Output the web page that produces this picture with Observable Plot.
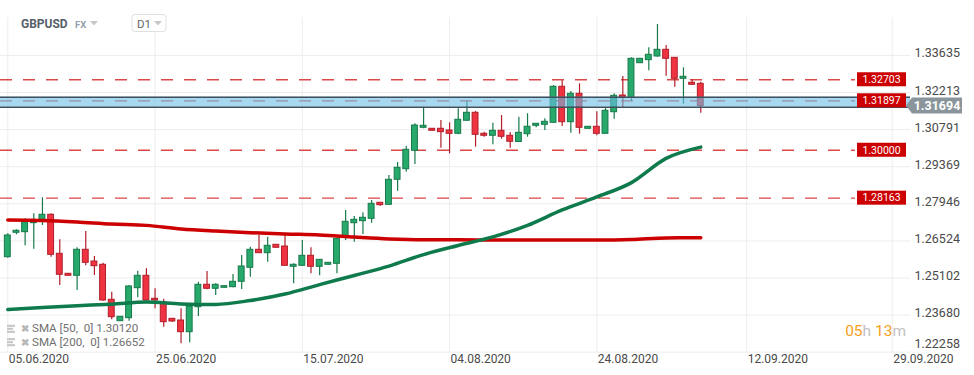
<!DOCTYPE html>
<html><head><meta charset="utf-8">
<script src="https://cdn.jsdelivr.net/npm/d3@7"></script>
<script src="https://cdn.jsdelivr.net/npm/@observablehq/plot@0.6"></script>
<style>
body{margin:0;background:#fff;font-family:Roboto,"Liberation Sans",sans-serif;}
#chart{width:974px;height:375px;overflow:hidden;}
</style></head><body><div id="chart"></div>
<script>
// ---- Data (GBPUSD D1, candle index 0 = 05.06.2020) ----
const opens = [1.25900,1.26836,1.26859,1.27204,1.27334,1.27526,1.26030,1.25264,1.25187,1.26184,1.25735,1.25609,1.24267,1.23446,1.23561,1.24712,1.25187,1.24305,1.24163,1.23538,1.23473,1.23025,1.23983,1.24842,1.24689,1.24727,1.24750,1.24957,1.25494,1.26184,1.26054,1.26376,1.26310,1.25532,1.25570,1.25954,1.25532,1.25609,1.25647,1.26636,1.27204,1.27280,1.27372,1.27986,1.27909,1.28868,1.29274,1.29980,1.30861,1.30823,1.30823,1.30758,1.30631,1.31130,1.31436,1.30631,1.30555,1.30746,1.30555,1.30317,1.30616,1.30938,1.30976,1.31053,1.32433,1.31076,1.32165,1.30823,1.30900,1.30631,1.31459,1.32100,1.32012,1.33338,1.33453,1.33595,1.33852,1.33545,1.32740,1.32587,1.32548];
const highs = [1.26797,1.26951,1.27372,1.27564,1.28178,1.27564,1.26567,1.25275,1.26261,1.26885,1.25927,1.25670,1.24558,1.23627,1.24815,1.25363,1.25455,1.24689,1.24290,1.23550,1.23922,1.24048,1.24942,1.25352,1.24880,1.24796,1.25237,1.25965,1.26284,1.26744,1.26667,1.26387,1.26732,1.25647,1.26540,1.26261,1.25812,1.25697,1.26617,1.27691,1.27461,1.27602,1.28074,1.27997,1.29032,1.29531,1.30144,1.31015,1.31651,1.30834,1.31141,1.31053,1.31590,1.31870,1.31486,1.30693,1.31038,1.31333,1.30681,1.31268,1.31398,1.31026,1.31206,1.32483,1.32663,1.32253,1.32548,1.30911,1.31475,1.31640,1.32165,1.32828,1.33545,1.33518,1.33929,1.34822,1.34017,1.33557,1.33162,1.32702,1.32610];
const lows = [1.25862,1.26759,1.26337,1.26207,1.27115,1.25900,1.24815,1.25168,1.24623,1.25570,1.25198,1.24213,1.23500,1.23435,1.23446,1.24344,1.24221,1.23922,1.23216,1.23397,1.22580,1.22618,1.23627,1.24650,1.24432,1.24708,1.24727,1.24662,1.25133,1.26042,1.25708,1.26253,1.25563,1.24880,1.25563,1.25264,1.25187,1.25601,1.25264,1.26540,1.26475,1.26770,1.27204,1.27855,1.27902,1.28431,1.29159,1.29454,1.30823,1.30739,1.30079,1.29864,1.30593,1.31122,1.30118,1.30501,1.30210,1.30424,1.30079,1.30298,1.30501,1.30861,1.30758,1.31045,1.30911,1.30654,1.30616,1.30816,1.30555,1.30623,1.31191,1.31613,1.31870,1.33327,1.33047,1.33568,1.32840,1.32418,1.31766,1.32502,1.31421];
const closes = [1.26732,1.26912,1.27242,1.27242,1.27526,1.25992,1.25225,1.25187,1.26184,1.25685,1.25555,1.24240,1.23600,1.23615,1.24777,1.25187,1.24240,1.24240,1.23408,1.23435,1.23025,1.24010,1.24842,1.24689,1.24842,1.24788,1.24957,1.25544,1.26184,1.26054,1.26337,1.26261,1.25570,1.25609,1.25954,1.25532,1.25800,1.25685,1.26606,1.27257,1.27334,1.27411,1.27947,1.27894,1.28868,1.29328,1.30018,1.30949,1.30938,1.30746,1.30693,1.30631,1.31168,1.31436,1.30593,1.30555,1.30746,1.30516,1.30325,1.30670,1.30900,1.31015,1.31091,1.32433,1.31076,1.32165,1.30861,1.30900,1.30631,1.31513,1.32088,1.32012,1.33507,1.33507,1.33660,1.33852,1.33507,1.32740,1.32817,1.32510,1.31694];

const smaIdx = [0,4,8,12,16,20,24,28,32,36,40,44,48,52,56,60,64,68,72,76,80];
const sma50  = [1.2389,1.2397,1.2404,1.2410,1.2418,1.2411,1.2409,1.2424,1.2449,1.2485,1.2520,1.2556,1.2600,1.2635,1.2668,1.2712,1.2771,1.2821,1.2876,1.2969,1.3012];
const sma200 = [1.2733,1.2731,1.2725,1.2717,1.2712,1.2698,1.2690,1.2684,1.2679,1.2675,1.2667,1.2660,1.2657,1.2657,1.2656,1.2656,1.2656,1.2656,1.2658,1.2664,1.2665];

const yTicks = [1.22258,1.23680,1.25102,1.26524,1.27946,1.29369,1.30791,1.32213,1.33635];
const dateTickPos = [0,17,34,51,68,85.3,102.1];
const dateLabels = ["05.06.2020","25.06.2020","15.07.2020","04.08.2020","24.08.2020","12.09.2020","29.09.2020"];

const levels = [1.32703,1.31897,1.30000,1.28163];
const levelLabels = ["1.32703","1.31897","1.30000","1.28163"];
const zone = [1.31651,1.32035];
const lastPrice = 1.31694;
const smaLegend = ["SMA [50,  0] 1.30120","SMA [200,  0] 1.26652"];

// ---- build ----
const candles = opens.map((o,i)=>({i,open:o,high:highs[i],low:lows[i],close:closes[i],up:closes[i]>=o}));
const s50 = smaIdx.map((i,k)=>({i,v:sma50[k]}));
const s200 = smaIdx.map((i,k)=>({i,v:sma200[k]}));
const dateMap = new Map(dateTickPos.map((p,k)=>[p,dateLabels[k]]));

const GREEN_F="#27a96c", GREEN_S="#17794a", RED_F="#ef3340", RED_S="#b01e2a";
const xMin=-0.843, xMax=104.21, levelEnd=97.85;
const yAxisOpts = {anchor:"right",tickSize:0,tickPadding:4,tickFormat:d=>d.toFixed(5),fontSize:12.5,color:"#4a4a4a",label:null};

const plot = Plot.plot({
  width:974, height:375,
  marginLeft:0, marginRight:64, marginTop:17, marginBottom:23,
  x:{domain:[xMin,xMax]},
  y:{domain:[1.22246,1.3509]},
  color:{type:"identity"},
  style:{fontFamily:"Roboto, sans-serif", background:"#fff"},
  marks:[
    Plot.gridY(yTicks,{stroke:"#ededed",strokeOpacity:1}),
    Plot.gridX(dateTickPos,{stroke:"#ededed",strokeOpacity:1}),
    Plot.axisY(yTicks.slice(1),{...yAxisOpts,dy:-2}),
    Plot.axisY(yTicks.slice(0,1),{...yAxisOpts,dy:-8}),
    Plot.axisX(dateTickPos,{anchor:"bottom",tickSize:0,tickPadding:2,tickFormat:d=>dateMap.get(d),textAnchor:"start",fontSize:12,color:"#4a4a4a",label:null,dx:1}),
    Plot.ruleY(levels,{y:d=>d,x1:xMin,x2:levelEnd,stroke:"#d62828",strokeOpacity:0.85,strokeWidth:1.3,strokeDasharray:"12,11"}),
    Plot.ruleX(candles,{x:"i",y1:"low",y2:"high",stroke:d=>d.up?GREEN_S:RED_S,strokeWidth:1.2}),
    Plot.rect(candles,{x1:d=>d.i-0.34,x2:d=>d.i+0.34,y1:"open",y2:"close",fill:d=>d.up?GREEN_F:RED_F,stroke:d=>d.up?GREEN_S:RED_S,strokeWidth:1}),
    Plot.rect([zone],{y1:d=>d[0],y2:d=>d[1],fill:"rgb(107,190,230)",fillOpacity:0.6}),
    Plot.ruleY(zone,{y:d=>d,stroke:"#3f4f5b",strokeWidth:1.5}),
    Plot.line(s200,{x:"i",y:"v",stroke:"#cc0000",strokeWidth:3.5,curve:"monotone-x"}),
    Plot.line(s50,{x:"i",y:"v",stroke:"#0f7a4c",strokeWidth:3.5,curve:"monotone-x"})
  ]
});

const svg = d3.select(plot);
const ys = plot.scale("y");

// level labels
levels.forEach((v,k)=>{
  const y = ys.apply(v);
  svg.append("rect").attr("x",857).attr("y",y-7).attr("width",49).attr("height",14).attr("fill","#cc0000");
  svg.append("text").attr("x",881.5).attr("y",y+3.8).attr("text-anchor","middle")
    .attr("font-size",10.5).attr("fill","#fff").attr("font-family","Roboto, sans-serif").text(levelLabels[k]);
});
// last price tag
{
  const y = ys.apply(lastPrice);
  svg.append("path").attr("d",`M906,${y} L912,${y-8} L962,${y-8} L962,${y+8} L912,${y+8} Z`).attr("fill","#8a959b");
  svg.append("text").attr("x",937).attr("y",y+4.5).attr("text-anchor","middle").attr("font-size",12.5)
    .attr("font-weight","bold").attr("fill","#fff").attr("font-family","Roboto, sans-serif").text(lastPrice.toFixed(5));
}
// header
const g = svg.append("g").attr("font-family","Roboto, sans-serif").attr("text-anchor","start");
g.append("text").attr("x",21).attr("y",27.5).attr("font-size",12).attr("font-weight","bold").attr("fill","#56606a").text("GBPUSD");
g.append("text").attr("x",75).attr("y",28).attr("font-size",9.5).attr("font-weight","bold").attr("fill","#93a1ab").text("FX");
g.append("path").attr("d","M90,21 L98,21 L94,25.5 Z").attr("fill","#c8c8c8");
g.append("rect").attr("x",132).attr("y",14.5).attr("width",34).attr("height",17).attr("rx",3).attr("fill","#fff").attr("stroke","#e0e0e0");
g.append("text").attr("x",137).attr("y",27.5).attr("font-size",11.5).attr("fill","#666").text("D1");
g.append("path").attr("d","M154,21 L162,21 L158,25.5 Z").attr("fill","#c8c8c8");
// SMA legend
smaLegend.forEach((t,k)=>{
  const y = 328.3 + k*13.4;
  [-3.5,-0.5,2.5].forEach((dy,j)=>g.append("rect").attr("x",7).attr("y",y+dy).attr("width",j==1?6:8).attr("height",2).attr("fill","#c4c4c4"));
  g.append("text").attr("x",20.5).attr("y",y+4).attr("font-size",10).attr("font-weight","bold").attr("fill","#b8b8b8").text("✖");
  g.append("text").attr("x",32).attr("y",y+4).attr("font-size",11.6).attr("fill","#707070").attr("xml:space","preserve").style("white-space","pre").text(t);
});
// timer
const tt = g.append("text").attr("x",906).attr("y",335.5).attr("text-anchor","end").attr("font-size",15.5);
tt.append("tspan").attr("fill","#f5a01a").text("05");
tt.append("tspan").attr("fill","#c2c2c2").text("h ");
tt.append("tspan").attr("fill","#f5a01a").text("13");
tt.append("tspan").attr("fill","#c2c2c2").text("m");

document.getElementById("chart").appendChild(plot);
</script></body></html>
